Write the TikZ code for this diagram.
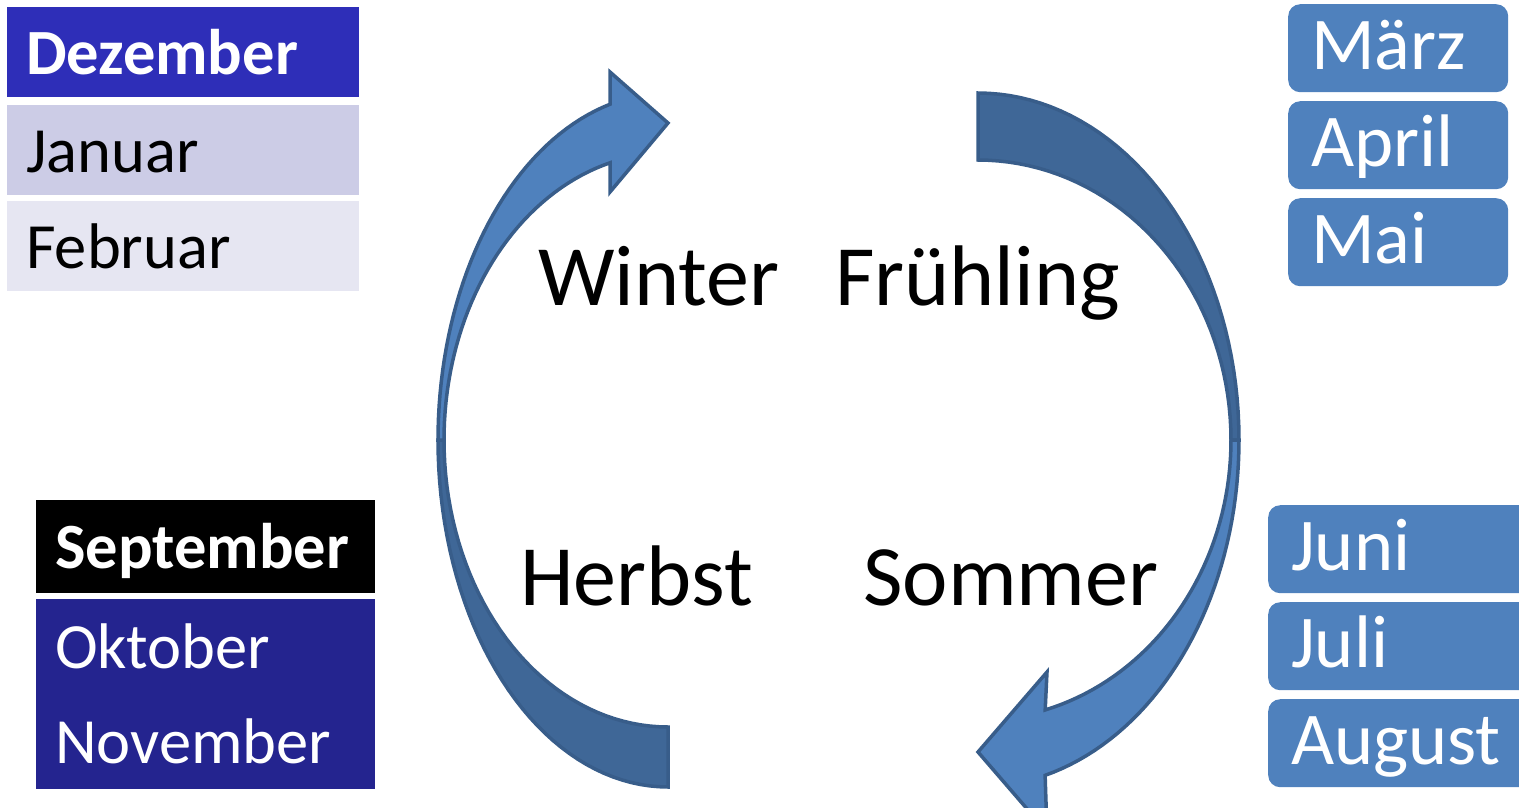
\documentclass[tikz,border=0pt]{standalone}
\usepackage{fontspec}
\setmainfont{Carlito}
\definecolor{dezblau}{RGB}{46,46,184}
\definecolor{janlila}{RGB}{204,204,230}
\definecolor{feblila}{RGB}{230,230,242}
\definecolor{herbstblau}{RGB}{36,36,143}
\definecolor{officeblau}{RGB}{79,129,189}
\definecolor{dunkelblau}{RGB}{63,103,151}
\definecolor{randblau}{RGB}{56,93,138}
\begin{document}
\begin{tikzpicture}[
        x=1pt, y=-1pt,
        links/.style={anchor=north west, inner xsep=19pt, inner ysep=0pt,
            text height=44pt, text depth=0pt, align=left,
            font=\fontsize{64.5}{78}\selectfont},
        blau/.style={anchor=north west, fill=officeblau, text=white,
            rounded corners=12pt, inner xsep=23pt, inner ysep=0pt,
            text height=42pt, text depth=0pt, align=left,
            minimum height=88pt, font=\fontsize{74.5}{90}\selectfont},
        jahreszeit/.style={anchor=base west, inner sep=0pt,
            font=\fontsize{86}{102}\selectfont},
        bogenhell/.style={fill=officeblau, draw=randblau, line width=3.5pt},
        bogendunkel/.style={fill=dunkelblau, draw=randblau, line width=3.5pt}
    ]
    \useasboundingbox (0,0) rectangle (1519,807);
    \clip (0,0) rectangle (1519,807);

    % Pfeil links (Herbst -> Winter)
    \filldraw[bogendunkel] plot[domain=90:180, samples=40]
        ({668+230*cos(\x)}, {440+347*sin(\x)})
        -- plot[domain=180:90, samples=40]
        ({668+224*cos(\x)}, {440+287*sin(\x)}) -- cycle;
    \filldraw[bogenhell] plot[domain=180:255.4, samples=40]
        ({668+230*cos(\x)}, {440+347*sin(\x)})
        -- (610,72) -- (668,123) -- (610,192)
        -- plot[domain=255:180, samples=40]
        ({668+224*cos(\x)}, {440+287*sin(\x)}) -- cycle;

    % Pfeil rechts (Frühling -> Sommer)
    \filldraw[bogendunkel] plot[domain=-90:0, samples=40]
        ({978+261*cos(\x)}, {440+347*sin(\x)})
        -- plot[domain=0:-90, samples=40]
        ({978+253*cos(\x)}, {440+280*sin(\x)}) -- cycle;
    \filldraw[bogenhell] plot[domain=0:75.1, samples=40]
        ({978+261*cos(\x)}, {440+347*sin(\x)})
        -- (1047,832) -- (978,752) -- (1047,672)
        -- plot[domain=74.6:0, samples=40]
        ({978+253*cos(\x)}, {440+280*sin(\x)}) -- cycle;

    % Jahreszeiten
    \node[jahreszeit] (winter) at (538,305) {Winter};
    \node[jahreszeit] (fruehling) at (835,305) {Frühling};
    \node[jahreszeit] (herbst) at (520,605) {Herbst};
    \node[jahreszeit] (sommer) at (863,605) {Sommer};

    % Wintermonate
    \node[links, fill=dezblau, text=white, text width=314pt, minimum height=90pt]
        (dez) at (7,7) {\bfseries Dezember};
    \node[links, fill=janlila, text width=314pt, minimum height=90pt]
        (jan) at (7,105) {Januar};
    \node[links, fill=feblila, text width=314pt, minimum height=90pt]
        (feb) at (7,201) {Februar};

    % Herbstmonate
    \node[links, fill=black, text=white, text width=301pt, minimum height=93pt]
        (sep) at (36,500) {\bfseries September};
    \node[links, fill=herbstblau, text=white, text width=301pt, minimum height=95pt]
        (okt) at (36,599) {Oktober};
    \node[links, fill=herbstblau, text=white, text width=301pt, minimum height=95pt]
        (nov) at (36,693.5) {November};

    % Frühlingsmonate
    \node[blau, text width=174pt] (mrz) at (1288,4) {März};
    \node[blau, text width=174pt] (apr) at (1288,101) {April};
    \node[blau, text width=174pt] (mai) at (1288,198) {Mai};

    % Sommermonate
    \node[blau, text width=254pt] (jun) at (1268,505) {Juni};
    \node[blau, text width=254pt] (jul) at (1268,602) {Juli};
    \node[blau, text width=254pt] (aug) at (1268,699) {August};
\end{tikzpicture}
\end{document}
